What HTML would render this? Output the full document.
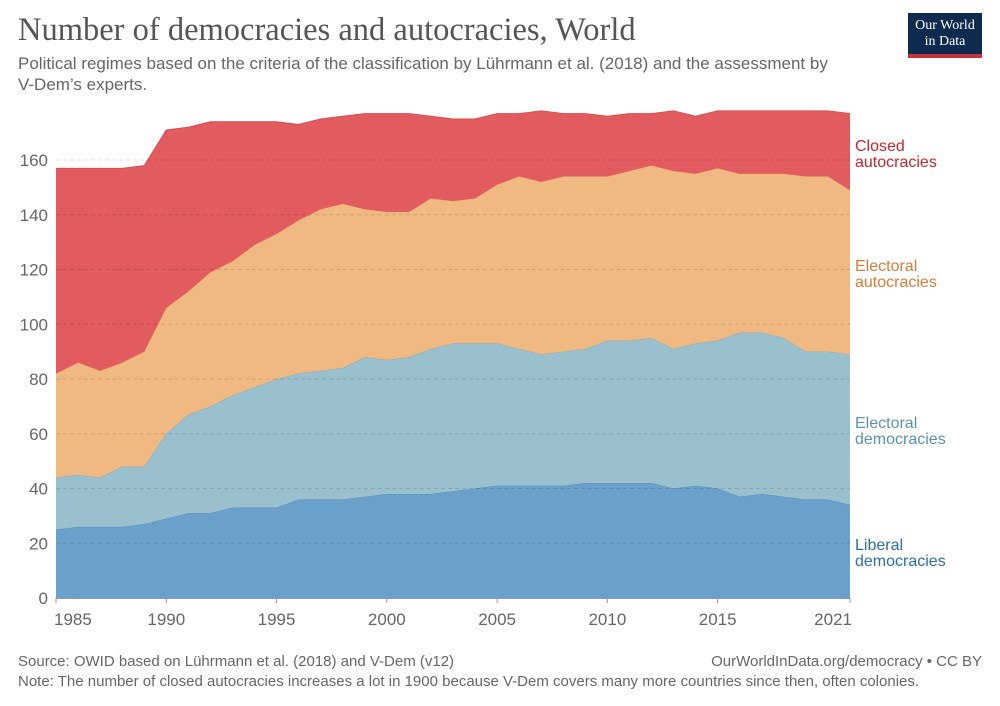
<!DOCTYPE html>
<html><head><meta charset="utf-8">
<style>
body{margin:0;background:#fff;font-family:"Liberation Sans",sans-serif;}
#wrap{position:relative;width:1000px;height:706px;overflow:hidden;}
.t{position:absolute;white-space:nowrap;}
</style></head>
<body>
<div id="wrap">
<div class="t" style="left:18px;top:12px;font-family:'Liberation Serif',serif;font-size:32.5px;color:#555;">Number of democracies and autocracies, World</div>
<div class="t" style="left:18px;top:53px;font-size:17px;color:#666;line-height:21px;">Political regimes based on the criteria of the classification by Lührmann et al. (2018) and the assessment by<br>V-Dem’s experts.</div>
<div style="position:absolute;left:908px;top:13px;width:74px;height:45px;background:#0e2b4f;border-bottom:4px solid #c4323a;box-sizing:border-box;color:#fff;font-family:'Liberation Serif',serif;font-size:14px;line-height:16px;text-align:center;padding-top:5px;">Our World<br>in Data</div>
<svg id="chart" width="1000" height="706" style="position:absolute;left:0;top:0;"></svg>
<div class="t" style="left:18px;top:653px;font-size:15px;color:#666;">Source: OWID based on Lührmann et al. (2018) and V-Dem (v12)</div>
<div class="t" style="right:18px;top:653px;font-size:15px;color:#666;">OurWorldInData.org/democracy • CC BY</div>
<div class="t" style="left:18px;top:673px;font-size:15px;color:#666;">Note: The number of closed autocracies increases a lot in 1900 because V-Dem covers many more countries since then, often colonies.</div>
</div>
<script>
const years=[1985,1986,1987,1988,1989,1990,1991,1992,1993,1994,1995,1996,1997,1998,1999,2000,2001,2002,2003,2004,2005,2006,2007,2008,2009,2010,2011,2012,2013,2014,2015,2016,2017,2018,2019,2020,2021];
const liberalDemocracies=[25,26,26,26,27,29,31,31,33,33,33,36,36,36,37,38,38,38,39,40,41,41,41,41,42,42,42,42,40,41,40,37,38,37,36,36,34];
const electoralDemocracies=[19,19,18,22,21,31,36,39,41,44,47,46,47,48,51,49,50,53,54,53,52,50,48,49,49,52,52,53,51,52,54,60,59,58,54,54,55];
const electoralAutocracies=[38,41,39,38,42,46,45,49,49,52,53,56,59,60,54,54,53,55,52,53,58,63,63,64,63,60,62,63,65,62,63,58,58,60,64,64,60];
const closedAutocracies=[75,71,74,71,68,65,60,55,51,45,41,35,33,32,35,36,36,30,30,29,26,23,26,23,23,22,21,19,22,21,21,23,23,23,24,24,28];
const yTicks=[0,20,40,60,80,100,120,140,160];
const xTicks=[1985,1990,1995,2000,2005,2010,2015,2021];

const NS="http://www.w3.org/2000/svg";
const svg=document.getElementById('chart');
const X0=56,X1=850,Y0=598,Y160=160;
const x=v=>X0+(v-years[0])/(years[years.length-1]-years[0])*(X1-X0);
const y=v=>Y0-v*(Y0-Y160)/160;
function mk(tag,attrs){const e=document.createElementNS(NS,tag);for(const k in attrs)e.setAttribute(k,attrs[k]);svg.appendChild(e);return e;}

const series=[
 {vals:liberalDemocracies,fill:"#6aa0c9",stroke:"#4f89b8",name:"liberal-democracies-area"},
 {vals:electoralDemocracies,fill:"#9abfcd",stroke:"#7ea9bb",name:"electoral-democracies-area"},
 {vals:electoralAutocracies,fill:"#f0b982",stroke:"#e5a56a",name:"electoral-autocracies-area"},
 {vals:closedAutocracies,fill:"#e15b5f",stroke:"#d8474c",name:"closed-autocracies-area"}
];
let base=years.map(()=>0);
series.forEach(s=>{
  const top=base.map((b,i)=>b+s.vals[i]);
  let d="M"+years.map((yr,i)=>x(yr)+","+y(top[i])).join("L");
  for(let i=years.length-1;i>=0;i--) d+="L"+x(years[i])+","+y(base[i]);
  d+="Z";
  const p=mk('path',{d:d,fill:s.fill,stroke:"none"});
  
  
  const l=mk('polyline',{points:years.map((yr,i)=>x(yr)+","+y(top[i])).join(" "),fill:"none",stroke:s.stroke,"stroke-width":0.8});
  
  
  base=top;
});
yTicks.forEach(t=>{
  if(t>0){const g=mk('line',{x1:X0,x2:X1,y1:y(t),y2:y(t),stroke:"#000","stroke-opacity":0.12,"stroke-dasharray":"4,3"});
  
  }
  const tx=mk('text',{x:48,y:y(t)+6,"text-anchor":"end","font-size":17,fill:"#666","font-family":"Liberation Sans, sans-serif"});
  tx.textContent=t;
  
  
});
const ax=mk('line',{x1:X0,x2:X1,y1:Y0+0.5,y2:Y0+0.5,stroke:"#999"});


xTicks.forEach(t=>{
  const tk=mk('line',{x1:x(t),x2:x(t),y1:Y0,y2:Y0+5,stroke:"#999"});
  
  
  const anchor=t===years[years.length-1]?"end":(t===years[0]?"start":"middle");
  const tx=mk('text',{x:t===years[0]?x(t)-2:(t===years[years.length-1]?x(t)+2:x(t)),y:625,"text-anchor":anchor,"font-size":17,fill:"#666","font-family":"Liberation Sans, sans-serif"});
  tx.textContent=t;
  
  
});
const labels=[
 {t:["Closed","autocracies"],y:151,c:"#c9242b",n:"legend-closed-autocracies"},
 {t:["Electoral","autocracies"],y:271,c:"#dc7c35",n:"legend-electoral-autocracies"},
 {t:["Electoral","democracies"],y:428,c:"#5a93b0",n:"legend-electoral-democracies"},
 {t:["Liberal","democracies"],y:550,c:"#2d6ead",n:"legend-liberal-democracies"}
];
labels.forEach(L=>{
  L.t.forEach((s,i)=>{
    const tx=mk('text',{x:855,y:L.y+i*16,"font-size":16,fill:L.c,"font-family":"Liberation Sans, sans-serif"});
    tx.textContent=s;
    
    
  });
});
</script>
</body></html>
